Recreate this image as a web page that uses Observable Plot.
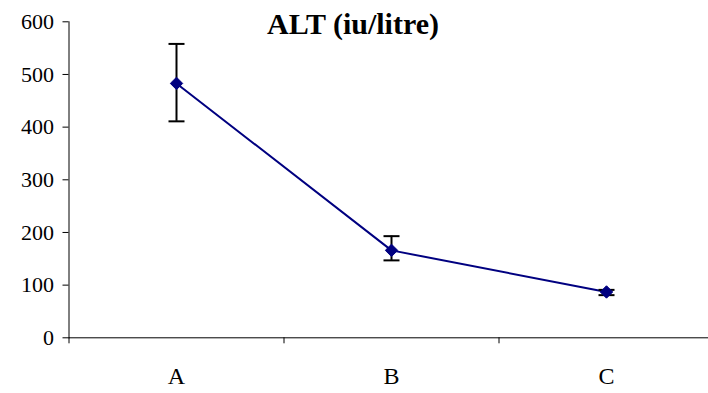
<!DOCTYPE html>
<html><head><meta charset="utf-8">
<script src="https://cdn.jsdelivr.net/npm/d3@7"></script>
<script src="https://cdn.jsdelivr.net/npm/@observablehq/plot@0.6"></script>
<style>
body{margin:0;background:#fff}
#wrap{position:relative;width:708px;height:393px}
#title{position:absolute;left:353px;top:9px;transform:translateX(-50%);font-family:"Liberation Serif","Times New Roman",Times,serif;font-weight:bold;font-size:30px;white-space:nowrap;color:#000;line-height:1}
svg text{font-family:"Liberation Serif","Times New Roman",Times,serif !important}
</style></head><body>
<div id="wrap"><div id="chart"></div><div id="title">ALT (iu/litre)</div></div>
<script>
const categories = ["A", "B", "C"];
const means = [483, 166, 87];
const upper = [558, 193, 91];
const lower = [411, 147, 81];
const yTicks = [0, 100, 200, 300, 400, 500, 600];

const data = categories.map((c, i) => ({c, x: i + 0.5, mean: means[i], hi: upper[i], lo: lower[i]}));
const cap = {draw(ctx, size) { const r = Math.sqrt(size / Math.PI); ctx.moveTo(-r, 0); ctx.lineTo(r, 0); }};

const plot = Plot.plot({
  width: 708, height: 393,
  marginLeft: 68.5, marginRight: 0, marginTop: 21.3, marginBottom: 55.7,
  style: {fontFamily: "Liberation Serif, serif", fontSize: "22px", color: "black", background: "white", overflow: "visible"},
  x: {type: "linear", domain: [0, 3], range: [68.5, 713.5]},
  y: {domain: [0, 600], range: [337.3, 21.3]},
  marks: [
    Plot.frame({anchor: "left", stroke: "black"}),
    Plot.ruleY([0], {stroke: "black"}),
    Plot.axisY({ticks: yTicks, tickSize: 6, tickPadding: 9, label: null, tickFormat: d => String(d), fontSize: 22}),
    Plot.axisX({ticks: [0, 1, 2, 3], tickSize: 6, tickFormat: () => "", label: null}),
    Plot.axisX({ticks: data.map(d => d.x), tickSize: 0, tickPadding: 29, tickFormat: v => categories[Math.floor(v)], label: null, fontSize: 24}),
    Plot.line(data, {x: "x", y: "mean", stroke: "#000080", strokeWidth: 2}),
    Plot.ruleX(data, {x: "x", y1: "lo", y2: "hi", stroke: "black", strokeWidth: 2}),
    Plot.dot(data, {x: "x", y: "hi", symbol: cap, r: 8, stroke: "black", strokeWidth: 2, fill: "none"}),
    Plot.dot(data, {x: "x", y: "lo", symbol: cap, r: 8, stroke: "black", strokeWidth: 2, fill: "none"}),
    Plot.dot(data, {x: "x", y: "mean", symbol: "diamond2", r: 5.6, fill: "#000080", stroke: "#000080", strokeWidth: 1})
  ]
});
document.getElementById("chart").appendChild(plot);
</script>
</body></html>
